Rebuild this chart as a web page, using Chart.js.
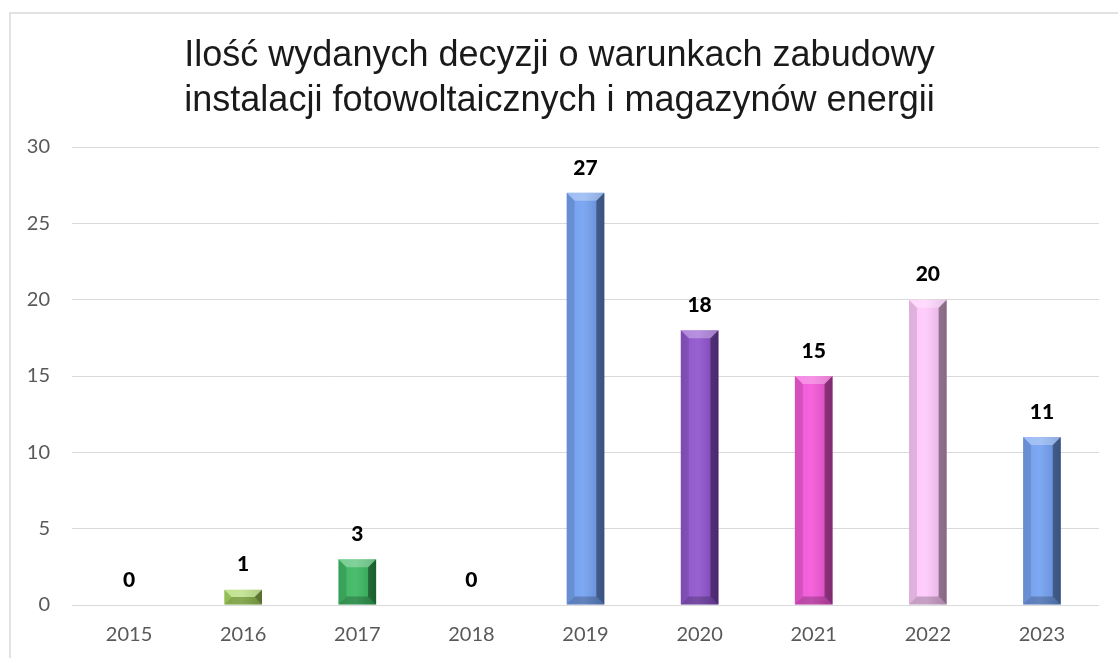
<!DOCTYPE html>
<html>
<head>
<meta charset="utf-8">
<script src="https://cdn.jsdelivr.net/npm/chart.js@4.4.0/dist/chart.umd.min.js"></script>
<style>
  html, body { margin: 0; padding: 0; background: #fff; }
  #wrap { position: relative; width: 1118px; height: 658px; overflow: hidden; }
  #frame { position: absolute; left: 9px; top: 12px; width: 1200px; height: 700px;
           border-top: 2px solid #e2e2e2; border-left: 2px solid #e2e2e2; }
  #chart { position: absolute; left: 0; top: 0; }
</style>
</head>
<body>
<div id="wrap">
  <div id="frame"></div>
  <canvas id="chart" width="1118" height="658"></canvas>
</div>
<script>
const years = ["2015", "2016", "2017", "2018", "2019", "2020", "2021", "2022", "2023"];
const decisions = [0, 1, 3, 0, 27, 18, 15, 20, 11];
const barColors = ["#9e9e9e", "#a3d458", "#33b45a", "#9e9e9e", "#6d9cf0", "#8a4ccb", "#f24fd6", "#ffc6fc", "#6d9cf0"];
const titleLines = ["Ilość wydanych decyzji o warunkach zabudowy", "instalacji fotowoltaicznych i magazynów energii"];

// bevel look of the original bars
const bevelPlugin = {
    id: "bevel",
    afterDatasetsDraw(chart) {
        const ctx = chart.ctx;
        chart.getDatasetMeta(0).data.forEach(function (bar, i) {
            const l = bar.x - bar.width / 2, r = bar.x + bar.width / 2;
            const top = bar.y, bottom = bar.base;
            const h = bottom - top;
            if (h < 1) return;
            const b = Math.min(8, h / 2);
            ctx.save();
            const g = ctx.createLinearGradient(l, 0, r, 0);
            g.addColorStop(0, "rgba(255,255,255,0.05)");
            g.addColorStop(0.45, "rgba(255,255,255,0.12)");
            g.addColorStop(1, "rgba(0,0,0,0.15)");
            ctx.fillStyle = g;
            ctx.fillRect(l, top, r - l, h);
            function poly(pts, color) {
                ctx.beginPath();
                ctx.moveTo(pts[0][0], pts[0][1]);
                for (let k = 1; k < pts.length; k++) ctx.lineTo(pts[k][0], pts[k][1]);
                ctx.closePath();
                ctx.fillStyle = color;
                ctx.fill();
            }
            poly([[l, top], [l + b, top + b], [l + b, bottom - b], [l, bottom]], "rgba(0,0,0,0.12)");
            poly([[r, top], [r - b, top + b], [r - b, bottom - b], [r, bottom]], "rgba(0,0,0,0.38)");
            poly([[l, top], [r, top], [r - b, top + b], [l + b, top + b]], "rgba(255,255,255,0.3)");
            poly([[l, bottom], [r, bottom], [r - b, bottom - b], [l + b, bottom - b]], "rgba(0,0,0,0.22)");
            ctx.restore();
        });
    }
};

const valueLabels = {
    id: "valueLabels",
    afterDatasetsDraw(chart) {
        const ctx = chart.ctx;
        ctx.save();
        ctx.font = "900 21px Lato, 'Open Sans', sans-serif";
        ctx.fillStyle = "#000";
        ctx.textAlign = "center";
        ctx.textBaseline = "middle";
        chart.getDatasetMeta(0).data.forEach(function (bar, i) {
            ctx.fillText(String(decisions[i]), bar.x, bar.y - 25);
        });
        ctx.restore();
    }
};

new Chart("chart", {
    type: "bar",
    data: {
        labels: years,
        datasets: [{
            data: decisions,
            backgroundColor: barColors,
            borderWidth: 0,
            barPercentage: 0.33,
            categoryPercentage: 1
        }]
    },
    options: {
        responsive: false,
        animation: false,
        layout: { padding: { left: 20, right: 19, top: 0, bottom: 0 } },
        plugins: {
            legend: { display: false },
            tooltip: { enabled: false },
            title: {
                display: true,
                text: titleLines,
                color: "#1a1a1a",
                font: { family: "'Liberation Sans', Arial, sans-serif", size: 36, weight: "normal", lineHeight: 1.25 },
                padding: { top: 34, bottom: 23 }
            }
        },
        scales: {
            x: {
                grid: { display: false },
                border: { display: false },
                ticks: { color: "#595959", font: { family: "Lato, sans-serif", size: 20 }, padding: 10 },
                afterFit(scale) { scale.height = 53; }
            },
            y: {
                min: 0,
                max: 30,
                grid: { color: "#d9d9d9", drawTicks: false },
                border: { display: false },
                ticks: { stepSize: 5, color: "#595959", font: { family: "Lato, sans-serif", size: 20 }, padding: 22 },
                afterFit(scale) { scale.width = 52; }
            }
        }
    },
    plugins: [bevelPlugin, valueLabels]
});
</script>
</body>
</html>
